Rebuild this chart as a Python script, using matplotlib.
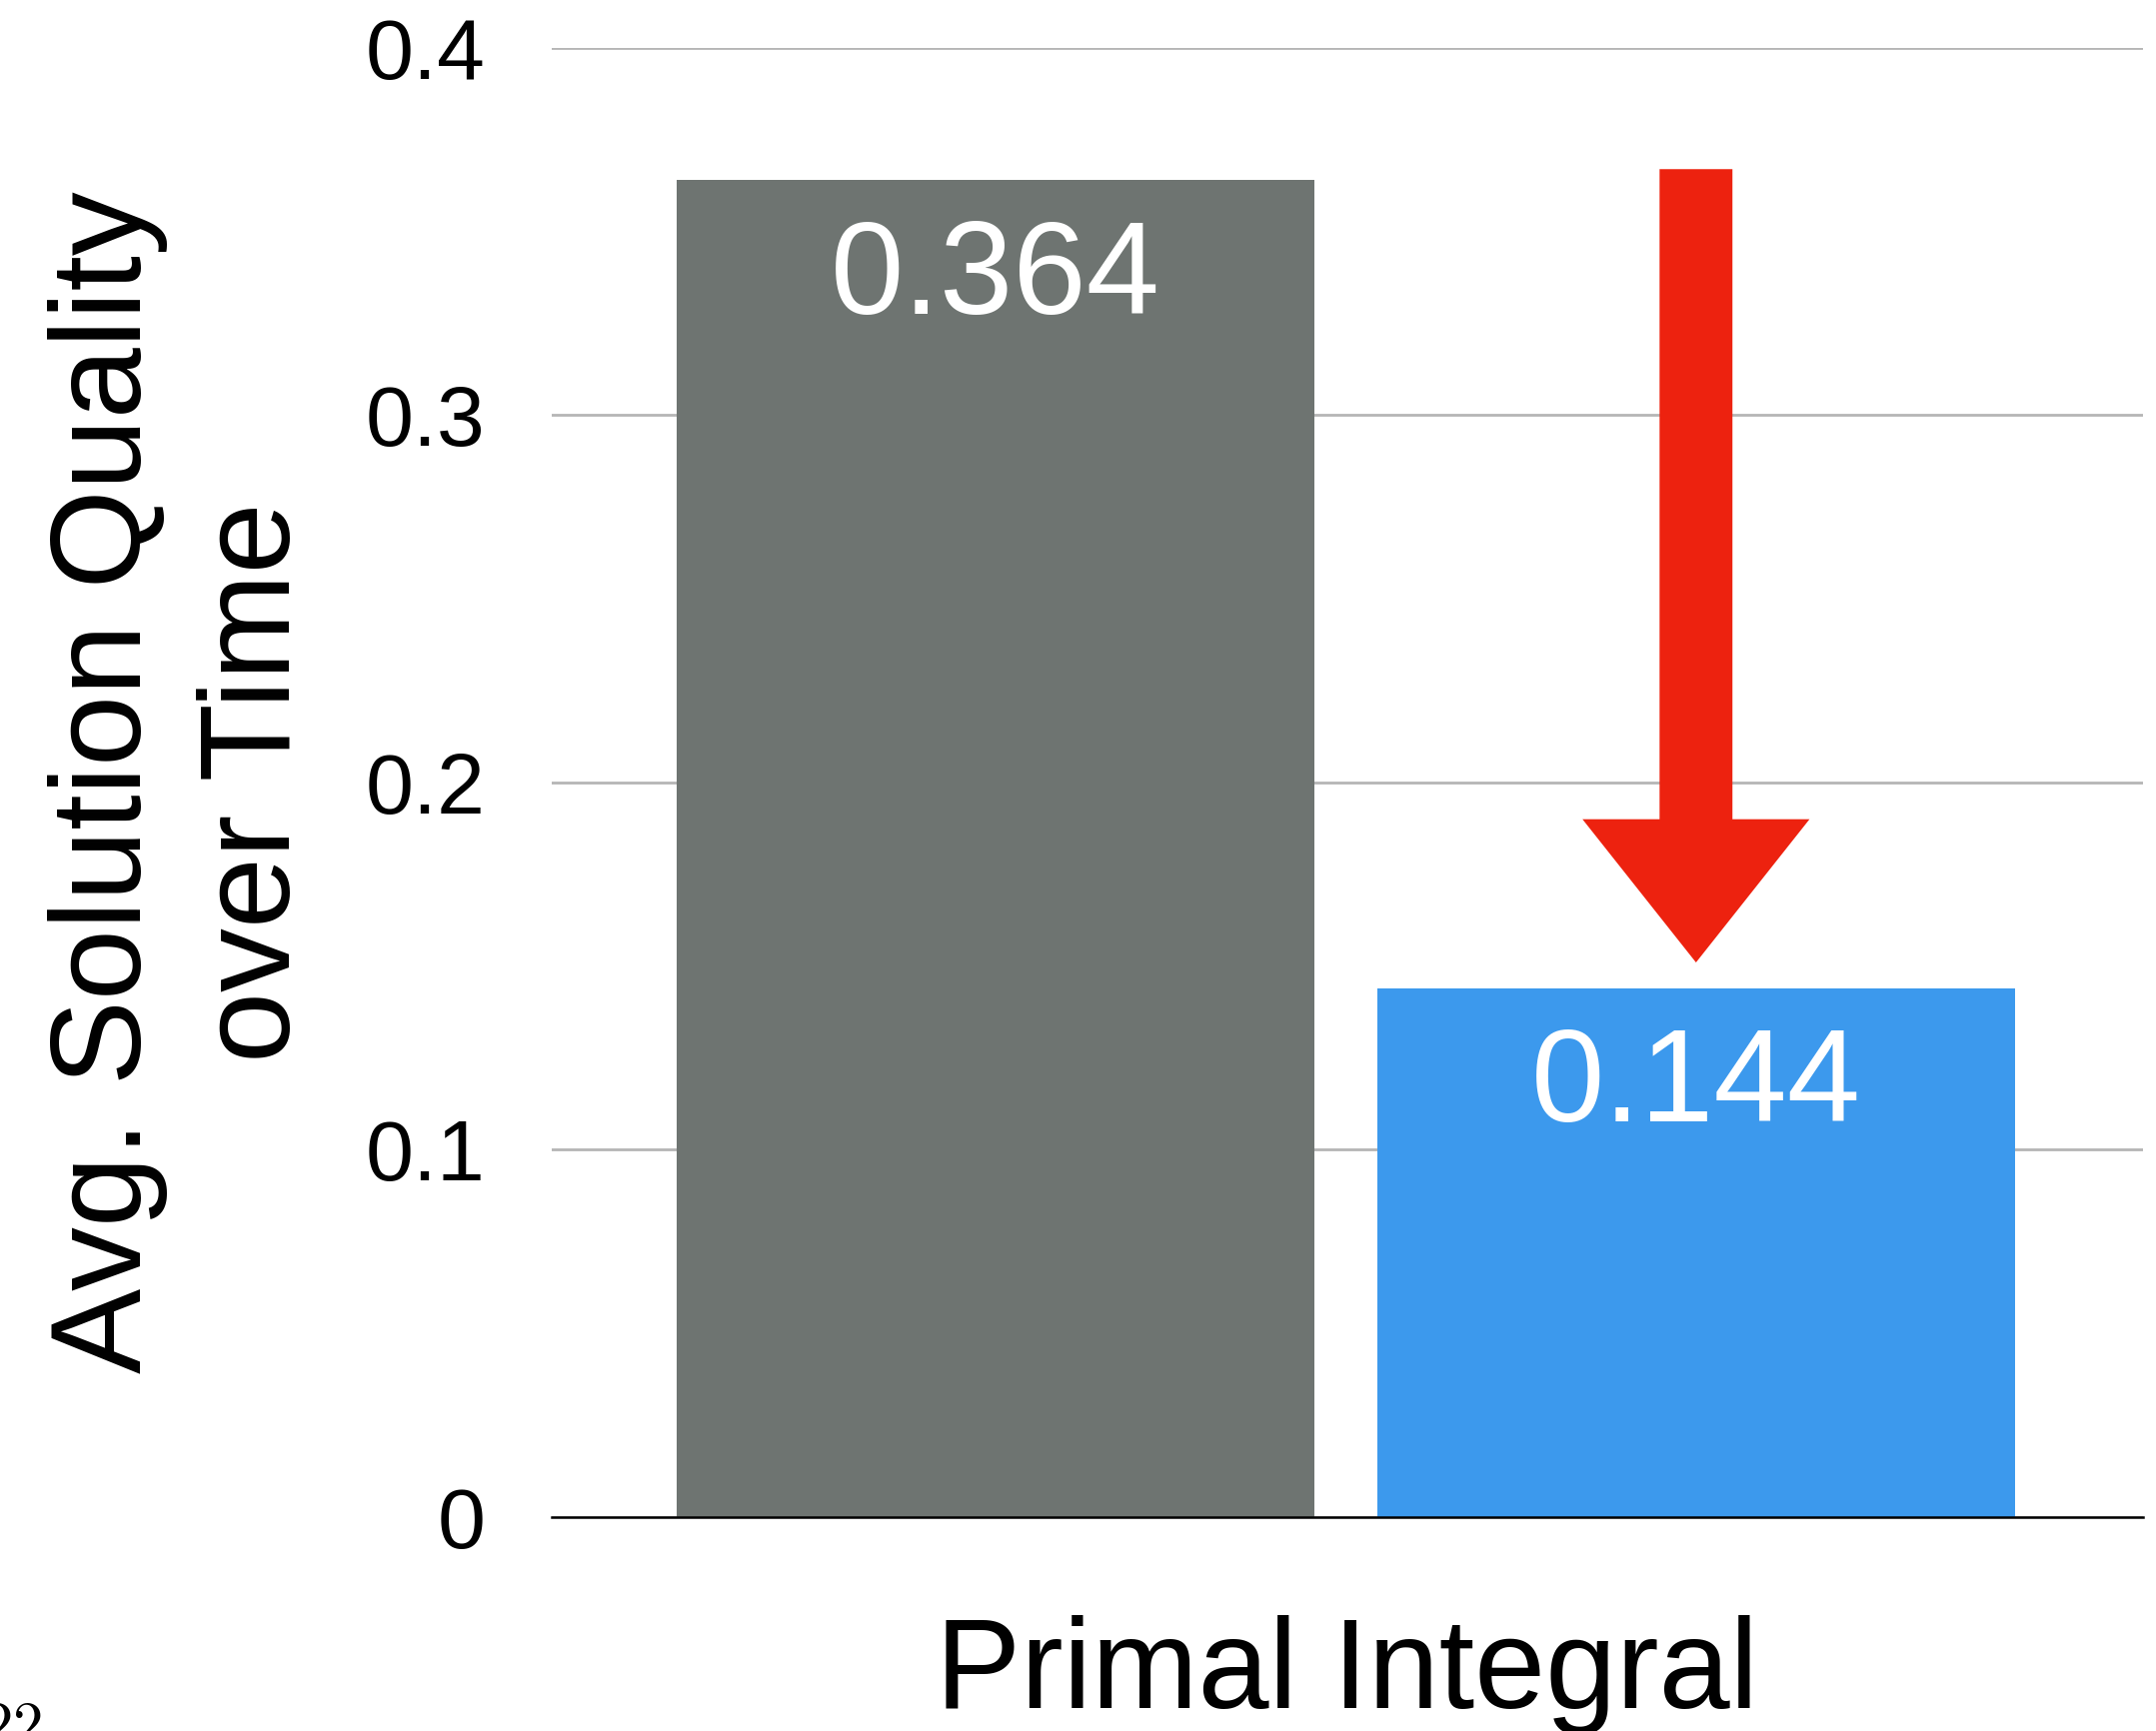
import matplotlib
matplotlib.use("Agg")
import matplotlib.pyplot as plt
from matplotlib.patches import FancyArrow

plt.rcParams["font.family"] = ["Liberation Sans", "DejaVu Sans"]
plt.rcParams["mathtext.fontset"] = "cm"

# Data
methods = ["Baseline", "Ours"]
values = [0.364, 0.144]
value_labels = ["0.364", "0.144"]
bar_colors = ["#6e7471", "#3c99ed"]
yticks = [0.0, 0.1, 0.2, 0.3, 0.4]
ytick_labels = ["0", "0.1", "0.2", "0.3", "0.4"]
group_label = "Primal Integral"
y_label = "Avg. Solution Quality\nover Time"

fig = plt.figure(figsize=(21.57, 17.32), dpi=100)
ax = fig.add_axes([0.2559, 0.1236, 0.7381, 0.8487])

x = list(range(len(methods)))
ax.bar(x, values, width=0.91, color=bar_colors, zorder=3)

ax.set_xlim(-0.633, 1.638)
ax.set_ylim(0, 0.4)
ax.set_yticks(yticks)
ax.set_yticklabels(ytick_labels, fontsize=62)
ax.tick_params(axis="y", length=0, pad=48)
ax.set_xticks([])

ax.grid(axis="y", color="#b5b5b5", linewidth=2.0, zorder=0)
ax.set_axisbelow(True)
for side in ["top", "right", "left"]:
    ax.spines[side].set_visible(False)
ax.spines["bottom"].set_linewidth(1.8)
ax.spines["bottom"].set_color("black")
ax.spines["bottom"].set_zorder(4)

# value labels inside bars
for xi, v, lab in zip(x, values, value_labels):
    ax.annotate(lab, xy=(xi, v), xytext=(0, -96), textcoords="offset points",
                ha="center", va="baseline", fontsize=95, color="white", zorder=5)

# downward arrow pointing at the improved bar
arrow_top = values[0] + 0.003
arrow_tip = values[1] + 0.007
arrow = FancyArrow(x[1], arrow_top, 0, arrow_tip - arrow_top,
                   width=0.104, head_width=0.324, head_length=0.039,
                   length_includes_head=True, color="#ed220f", linewidth=0,
                   zorder=6)
ax.add_patch(arrow)

ax.set_ylabel(y_label, fontsize=92, linespacing=1.31)
ax.yaxis.set_label_coords(-0.1476, 0.5)

fig.text(0.6249, 1 - 1709 / 1732, group_label, ha="center", va="baseline",
         fontsize=92)

fig.text(42 / 2157, 1 - 1702 / 1732, r"$22$", ha="right", va="top",
         fontsize=44)

fig.savefig("out.png", dpi=100)
